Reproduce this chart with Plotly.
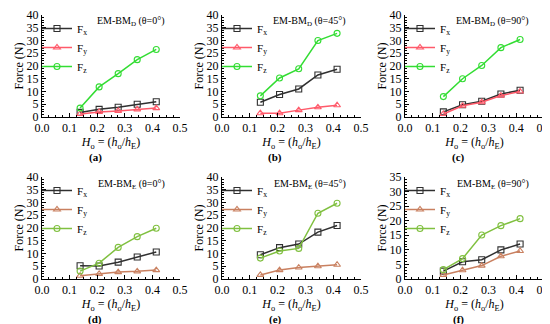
import plotly.graph_objects as go

x_vals = [0.138, 0.207, 0.276, 0.345, 0.414]

panel_titles = ["EM-BM<sub>D</sub> (θ=0°)", "EM-BM<sub>D</sub> (θ=45°)", "EM-BM<sub>D</sub> (θ=90°)",
                "EM-BM<sub>E</sub> (θ=0°)", "EM-BM<sub>E</sub> (θ=45°)", "EM-BM<sub>E</sub> (θ=90°)"]
panel_labels = ["(a)", "(b)", "(c)", "(d)", "(e)", "(f)"]

a_fx = [1.8, 3.0, 3.8, 5.0, 6.0]
a_fy = [1.2, 2.0, 2.4, 3.0, 3.5]
a_fz = [3.5, 11.8, 17.0, 22.5, 26.5]

b_fx = [5.8, 8.8, 11.0, 16.5, 18.7]
b_fy = [1.5, 1.5, 2.7, 3.8, 4.6]
b_fz = [8.3, 15.3, 18.9, 30.0, 32.8]

c_fx = [2.0, 4.8, 6.2, 9.0, 10.5]
c_fy = [1.2, 4.4, 5.8, 8.4, 10.0]
c_fz = [8.0, 15.0, 20.2, 27.2, 30.4]

d_fx = [5.2, 5.1, 6.6, 8.6, 10.6]
d_fy = [1.3, 2.0, 2.7, 3.0, 3.5]
d_fz = [3.1, 6.2, 12.4, 16.6, 19.9]

e_fx = [9.5, 12.3, 13.7, 18.4, 21.0]
e_fy = [1.6, 3.5, 4.5, 5.0, 5.6]
e_fz = [8.2, 11.0, 12.0, 25.8, 29.7]

f_fx = [2.7, 5.9, 6.6, 10.0, 12.0]
f_fy = [1.4, 3.0, 4.6, 7.8, 9.6]
f_fz = [3.2, 7.0, 15.1, 18.3, 20.7]

y_max = [40, 40, 40, 40, 40, 35]
data = [(a_fx, a_fy, a_fz), (b_fx, b_fy, b_fz), (c_fx, c_fy, c_fz),
        (d_fx, d_fy, d_fz), (e_fx, e_fy, e_fz), (f_fx, f_fy, f_fz)]

top_colors = ["#303030", "#ff5a6a", "#33dd33"]
bot_colors = ["#303030", "#c98060", "#80c040"]
symbols = ["square-open", "triangle-up-open", "circle-open"]
names = ["F<sub>x</sub>", "F<sub>y</sub>", "F<sub>z</sub>"]

W, H = 550, 324
xdom_px = [(34, 172), (214, 353), (397, 536)]
ydom_px = [(7, 109), (169, 271)]

FONT = "Liberation Serif"
fig = go.Figure()
layout = {}
for i in range(6):
    r, c = divmod(i, 3)
    idx = "" if i == 0 else str(i + 1)
    xa, ya = "x" + idx, "y" + idx
    leg = "legend" if i == 0 else "legend" + str(i + 1)
    colors = top_colors if r == 0 else bot_colors
    for k in range(3):
        fig.add_trace(go.Scatter(
            x=x_vals, y=data[i][k], mode="lines+markers", name=names[k],
            line=dict(color=colors[k], width=1.5),
            marker=dict(symbol=symbols[k], size=6, color=colors[k], line=dict(width=1.1)),
            xaxis=xa, yaxis=ya, legend=leg))
    x0, x1 = xdom_px[c]
    y0, y1 = ydom_px[r]
    axis_common = dict(showline=True, linecolor="black", linewidth=1, ticks="inside",
                       ticklen=4, tickcolor="black", showgrid=False, zeroline=False,
                       automargin=False, mirror=False,
                       tickfont=dict(family=FONT, size=12, color="black"))
    layout["xaxis" + idx] = dict(domain=[x0 / W, x1 / W], range=[0, 0.5], dtick=0.1,
                                 tickformat=".1f", anchor=ya,
                                 minor=dict(dtick=0.025, ticks="inside", ticklen=2, tickcolor="black"),
                                 title=dict(text="<i>H</i><sub>o</sub> = (<i>h</i><sub>o</sub>/<i>h</i><sub>E</sub>)",
                                            font=dict(family=FONT, size=12, color="black"), standoff=0),
                                 **axis_common)
    layout["yaxis" + idx] = dict(domain=[1 - y1 / H, 1 - y0 / H], range=[0, y_max[i]], dtick=5,
                                 anchor=xa, minor=dict(dtick=1, ticks="inside", ticklen=2, tickcolor="black"),
                                 title=dict(text="Force (N)", font=dict(family=FONT, size=12, color="black"),
                                            standoff=0),
                                 **axis_common)
    layout[leg] = dict(x=(x0 - 5) / W, y=1 - (y0 - 1) / H, xanchor="left", yanchor="top",
                       bgcolor="rgba(0,0,0,0)", itemwidth=30, tracegroupgap=0,
                       font=dict(family=FONT, size=11, color="black"))
    fig.add_annotation(xref="paper", yref="paper", x=(x1 - 13) / W, y=1 - (y0 + 7) / H,
                       text=panel_titles[i], showarrow=False, xanchor="right", yanchor="middle",
                       font=dict(family=FONT, size=10, color="black"))
    fig.add_annotation(xref="paper", yref="paper", x=(x0 + 53) / W, y=1 - (y1 + 40) / H,
                       text="<b>" + panel_labels[i] + "</b>", showarrow=False,
                       xanchor="center", yanchor="middle",
                       font=dict(family=FONT, size=11, color="black"))

fig.update_layout(template="none", width=W, height=H, margin=dict(l=0, r=0, t=0, b=0),
                  paper_bgcolor="white", plot_bgcolor="white", **layout)
fig.write_html("out.html")
